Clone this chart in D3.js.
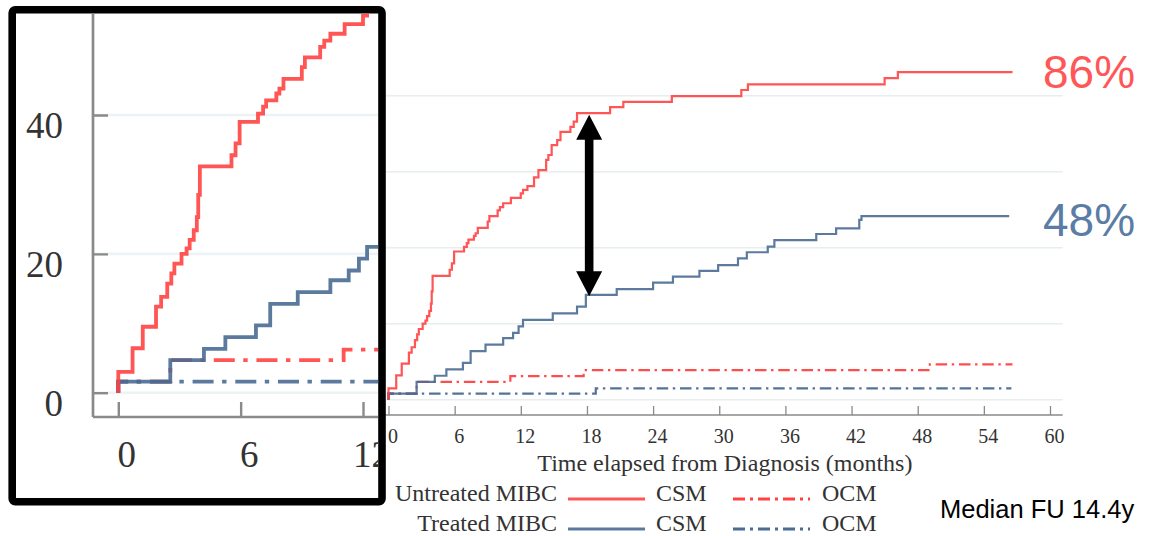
<!DOCTYPE html>
<html>
<head>
<meta charset="utf-8">
<script src="https://cdn.jsdelivr.net/npm/d3@7"></script>
<style>
  body { margin: 0; background: #fff; }
  svg { display: block; }
</style>
</head>
<body>
<svg id="chart" width="1153" height="536"></svg>
<script>
// Cumulative incidence (%) by months since diagnosis, as [month, percent] steps
const untreatedCSM = [[0,0],[0,3.0],[0.7,6.4],[1.2,9.5],[1.85,12.4],[2.1,13.8],[2.4,15.7],[2.6,17.2],[2.75,18.6],
  [3.1,20.0],[3.35,20.8],[3.5,22.0],[3.7,23.4],[3.85,25.3],[3.92,28.5],[4.0,32.6],[5.55,34.2],[5.75,35.9],
  [5.95,39.0],[6.85,40.2],[7.1,41.2],[7.25,42.1],[7.75,43.1],[7.9,43.8],[8.1,45.2],[9.0,46.9],[9.15,48.3],
  [9.9,49.8],[10.1,50.7],[10.4,51.7],[11.1,53.1],[12.0,54.3],[12.2,55.2],[12.6,56.2],[13.2,58.5],[13.6,60.4],
  [14.3,63.1],[14.5,64.4],[14.8,67.0],[15.3,68.3],[15.6,70.5],[16.5,71.8],[16.8,73.2],[17.1,75.4],[20.1,77.0],
  [21.3,78.4],[25.7,79.9],[32.0,81.5],[32.6,83.0],[45.0,84.6],[46.2,86.2],[56.6,86.2]];
const treatedCSM = [[0,0],[0,1.6],[2.55,4.7],[4.2,6.3],[5.25,8.0],[6.75,9.7],[7.45,12.8],[8.8,14.5],[10.4,16.2],
  [11.3,17.6],[11.8,19.3],[12.2,21.0],[14.9,22.7],[17.1,24.5],[17.9,27.6],[20.7,29.1],[24.0,30.8],[25.8,32.4],
  [28.2,33.9],[29.9,35.4],[31.7,37.2],[32.5,38.8],[34.4,40.3],[35.0,42.0],[38.8,43.6],[40.6,45.1],[42.7,47.3],
  [42.9,48.3],[56.3,48.3]];
const untreatedOCM = [[0,0],[0,1.6],[2.55,4.7],[11.05,6.2],[17.7,7.8],[49.1,9.3],[56.6,9.3]];
const treatedOCM = [[0,0],[0,1.6],[18.8,3.0],[56.5,3.0]];

const xTickValues = [0, 6, 12, 18, 24, 30, 36, 42, 48, 54, 60];
const yGridValues = [0, 20, 40, 60, 80];
const insetXTicks = [0, 6, 12];
const insetYTicks = [0, 20, 40];
const endLabels = ["86%", "48%"];
const groupNames = ["Untreated MIBC", "Treated MIBC"];
const outcomeNames = ["CSM", "OCM"];
const xTitle = "Time elapsed from Diagnosis (months)";
const footnote = "Median FU 14.4y";
const gapMonth = 18.2;

const RED = "#ff4343";
const BLUE = "#4a6b93";
const GRID = "#e6eef0";
const AXIS = "#8a8a8a";
const SERIF = "'Liberation Serif', 'DejaVu Serif', serif";
const SANS = "'Liberation Sans', Arial, sans-serif";

const series = [
  { data: untreatedOCM, color: RED, dashed: true },
  { data: treatedOCM, color: BLUE, dashed: true },
  { data: treatedCSM, color: BLUE, dashed: false },
  { data: untreatedCSM, color: RED, dashed: false }
];

const svg = d3.select("#chart");

// ---------- main panel ----------
const x = d3.scaleLinear().domain([0, 60]).range([388.5, 1050]);
const y = d3.scaleLinear().domain([0, 80]).range([399.7, 95.7]);
const plotLeft = x(-1.22), plotRight = x(61.15), axisY = 415;

const main = svg.append("g");

main.append("g").selectAll("line").data(yGridValues).join("line")
  .attr("x1", plotLeft).attr("x2", plotRight)
  .attr("y1", d => y(d)).attr("y2", d => y(d))
  .attr("stroke", GRID).attr("stroke-width", 1.5);

const xAxis = main.append("g").attr("transform", `translate(0,${axisY})`)
  .call(d3.axisBottom(x).tickValues(xTickValues).tickSizeInner(-9).tickSizeOuter(0).tickPadding(14));
xAxis.select(".domain").attr("d", `M${plotLeft},0H${plotRight}`).attr("stroke", AXIS).attr("stroke-width", 1.5);
xAxis.selectAll(".tick line").attr("stroke", AXIS).attr("stroke-width", 1.3);
xAxis.selectAll(".tick text").attr("dx", 4).attr("fill", "#333")
  .style("font-family", SERIF).style("font-size", "20px");

main.append("text").attr("x", (plotLeft + plotRight) / 2 + 6).attr("y", 471)
  .attr("text-anchor", "middle").attr("fill", "#333")
  .style("font-family", SERIF).style("font-size", "24px").text(xTitle);

const mainLine = d3.line().x(d => x(d[0])).y(d => y(d[1])).curve(d3.curveStepAfter);
main.append("g").selectAll("path").data(series).join("path")
  .attr("d", d => mainLine(d.data))
  .attr("fill", "none").attr("stroke", d => d.color).attr("stroke-width", 2.2)
  .attr("stroke-dasharray", d => d.dashed ? "11.5,4.6,2.4,4.8" : null)
  .attr("stroke-opacity", d => d.dashed ? 0.95 : 0.9);

// end-of-follow-up labels
const lastVal = arr => arr[arr.length - 1][1];
main.append("text").attr("x", 1043).attr("y", y(lastVal(untreatedCSM)) + 16)
  .attr("fill", "#ff5757").style("font-family", SANS).style("font-size", "46px").text(endLabels[0]);
main.append("text").attr("x", 1043).attr("y", y(lastVal(treatedCSM)) + 20)
  .attr("fill", "#5a7ca5").style("font-family", SANS).style("font-size", "46px").text(endLabels[1]);

// double-headed arrow showing the gap between the two CSM curves
const valueAt = (arr, t) => { let v = 0; for (const p of arr) if (p[0] <= t) v = p[1]; return v; };
const ax = x(gapMonth);
const aTop = y(valueAt(untreatedCSM, gapMonth)) + 1.5;
const aBot = y(valueAt(treatedCSM, gapMonth)) + 1.5;
const headH = 25, headW = 13, shaft = 4.3;
main.append("path")
  .attr("d", `M${ax},${aTop} L${ax + headW},${aTop + headH} L${ax + shaft},${aTop + headH}
    L${ax + shaft},${aBot - headH} L${ax + headW},${aBot - headH} L${ax},${aBot}
    L${ax - headW},${aBot - headH} L${ax - shaft},${aBot - headH} L${ax - shaft},${aTop + headH}
    L${ax - headW},${aTop + headH} Z`)
  .attr("fill", "#000");

// legend
const legendRows = [
  { name: groupNames[0], color: RED, base: 501 },
  { name: groupNames[1], color: BLUE, base: 531 }
];
const legend = main.append("g");
legendRows.forEach(r => {
  legend.append("text").attr("x", 557).attr("y", r.base).attr("text-anchor", "end").attr("fill", "#333")
    .style("font-family", SERIF).style("font-size", "24px").text(r.name);
  legend.append("line").attr("x1", 568).attr("x2", 645).attr("y1", r.base - 2).attr("y2", r.base - 2)
    .attr("stroke", r.color).attr("stroke-width", 2.8).attr("stroke-opacity", 0.9);
  legend.append("text").attr("x", 656).attr("y", r.base).attr("fill", "#333")
    .style("font-family", SERIF).style("font-size", "24px").text(outcomeNames[0]);
  legend.append("line").attr("x1", 733).attr("x2", 810).attr("y1", r.base - 2).attr("y2", r.base - 2)
    .attr("stroke", r.color).attr("stroke-width", 2.8).attr("stroke-dasharray", "12,5,3,5");
  legend.append("text").attr("x", 822).attr("y", r.base).attr("fill", "#333")
    .style("font-family", SERIF).style("font-size", "24px").text(outcomeNames[1]);
});

svg.append("text").attr("x", 940).attr("y", 518).attr("fill", "#000")
  .style("font-family", SANS).style("font-size", "25.5px").text(footnote);

// ---------- magnified inset of the first year ----------
const inset = svg.append("g");
inset.append("rect").attr("x", 12.2).attr("y", 9.7).attr("width", 369.8).attr("height", 492)
  .attr("rx", 3).attr("fill", "#fff").attr("stroke", "#000").attr("stroke-width", 7.6);

svg.append("defs").append("clipPath").attr("id", "insetClip")
  .append("rect").attr("x", 16).attr("y", 13.5).attr("width", 362).attr("height", 484.5);

const ix = d3.scaleLinear().domain([0, 12]).range([118.3, 363]);
const iy = d3.scaleLinear().domain([0, 40]).range([392.7, 115]);
const iAxisX = 93, iAxisY = 417;
const ig = inset.append("g").attr("clip-path", "url(#insetClip)");

ig.append("g").selectAll("line").data(insetYTicks).join("line")
  .attr("x1", iAxisX).attr("x2", 380).attr("y1", d => iy(d)).attr("y2", d => iy(d))
  .attr("stroke", "#edf3f5").attr("stroke-width", 2.6);

const iyAxis = ig.append("g").attr("transform", `translate(${iAxisX},0)`)
  .call(d3.axisLeft(iy).tickValues(insetYTicks).tickSizeInner(-15).tickSizeOuter(0).tickPadding(30));
iyAxis.select(".domain").attr("d", `M0,0V${iAxisY}`).attr("stroke", AXIS).attr("stroke-width", 2.7);
iyAxis.selectAll(".tick line").attr("stroke", AXIS).attr("stroke-width", 2.4);
iyAxis.selectAll(".tick text").attr("dy", "0.62em").attr("fill", "#333")
  .style("font-family", SERIF).style("font-size", "37px");

const ixAxis = ig.append("g").attr("transform", `translate(0,${iAxisY})`)
  .call(d3.axisBottom(ix).tickValues(insetXTicks).tickSizeInner(-15).tickSizeOuter(0).tickPadding(24));
ixAxis.select(".domain").attr("d", `M${iAxisX},0H380`).attr("stroke", AXIS).attr("stroke-width", 2.7);
ixAxis.selectAll(".tick line").attr("stroke", AXIS).attr("stroke-width", 2.4);
ixAxis.selectAll(".tick text").attr("dx", 8).attr("fill", "#333")
  .style("font-family", SERIF).style("font-size", "37px");

const insetLine = d3.line().x(d => ix(d[0])).y(d => iy(d[1])).curve(d3.curveStepAfter);
ig.append("g").selectAll("path").data(series).join("path")
  .attr("d", d => insetLine(d.data))
  .attr("fill", "none").attr("stroke", d => d.color).attr("stroke-width", 3.8)
  .attr("stroke-dasharray", d => d.dashed ? "21,8.5,4.4,8.8" : null)
  .attr("stroke-opacity", 0.9);
</script>
</body>
</html>
